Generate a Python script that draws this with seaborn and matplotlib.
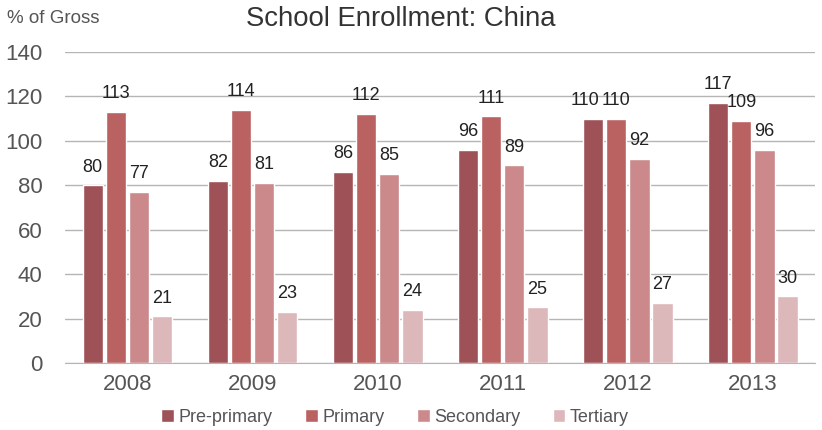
import pandas as pd
import matplotlib.pyplot as plt
import seaborn as sns

# Data
years = ['2008', '2009', '2010', '2011', '2012', '2013']
levels = ['Pre-primary', 'Primary', 'Secondary', 'Tertiary']
pre_primary = [80, 82, 86, 96, 110, 117]
primary = [113, 114, 112, 111, 110, 109]
secondary = [77, 81, 85, 89, 92, 96]
tertiary = [21, 23, 24, 25, 27, 30]

colors = ['#9E5156', '#BA6262', '#CB898B', '#DDB8BA']

df = pd.DataFrame({
    'year': years * 4,
    'level': [l for l in levels for _ in years],
    'value': pre_primary + primary + secondary + tertiary,
})

sns.set_style('white')
plt.rcParams['font.family'] = ['Liberation Sans', 'DejaVu Sans']

fig = plt.figure(figsize=(8.22, 4.30), dpi=100)
ax = fig.add_axes([0.079, 0.156, 0.913, 0.723])

sns.barplot(data=df, x='year', y='value', hue='level', palette=colors,
            width=0.74, gap=0.12, ax=ax, saturation=1, legend=True)

labels_per_level = []
for cont in ax.containers:
    labels_per_level.append(
        ax.bar_label(cont, fmt='%d', padding=7, fontsize=13, color='#222222'))

# nudge a label left where two neighbouring labels would collide
for i in range(len(years)):
    if abs(pre_primary[i] - primary[i]) < 4:
        t = labels_per_level[0][i]
        x, y = t.xyann
        t.xyann = (x - 6, y)

ax.set_ylim(0, 140)
ax.set_yticks(range(0, 141, 20))
ax.yaxis.grid(True, color='#b5b5b5', linewidth=1)
ax.set_axisbelow(True)
for s in ['left', 'right', 'top']:
    ax.spines[s].set_visible(False)
ax.spines['bottom'].set_color('#b5b5b5')
ax.tick_params(axis='y', labelsize=16, colors='#555555', length=0, pad=16)
ax.tick_params(axis='x', labelsize=16, colors='#555555', length=0, pad=8)
ax.set_xlabel('')
ax.set_ylabel('')

fig.text(0.008, 0.958, '% of Gross', fontsize=13.5, color='#555555', va='center')
fig.text(0.487, 0.955, 'School Enrollment: China', fontsize=19.8, color='#333333',
         ha='center', va='center')

handles, labels = ax.get_legend_handles_labels()
ax.legend(handles, labels, loc='center', bbox_to_anchor=(0.44, -0.175), ncol=4,
          frameon=False, fontsize=13, handlelength=0.7, handleheight=0.7,
          handletextpad=0.25, columnspacing=1.8, labelcolor='#555555')

fig.savefig('out.png', dpi=100)
